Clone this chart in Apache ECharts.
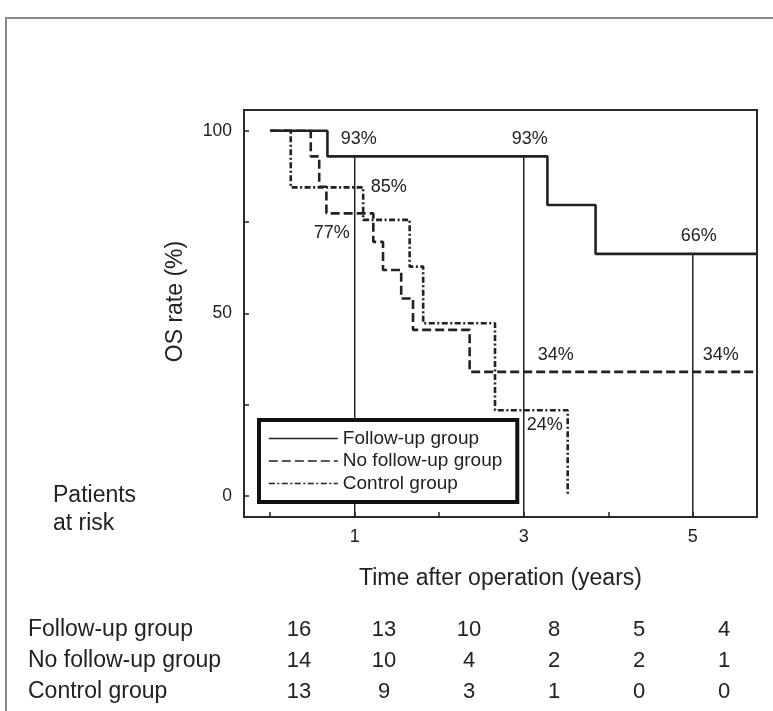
<!DOCTYPE html>
<html>
<head>
<meta charset="utf-8">
<script src="https://cdn.jsdelivr.net/npm/echarts@6/dist/echarts.min.js"></script>
<style>
  html, body { margin: 0; padding: 0; background: #fff; }
  #chart-container { width: 773px; height: 711px; }
</style>
</head>
<body>
<div id="chart-container"></div>
<script>
// survival curves (years, OS %)
var followUpTimes = [0, 0.677, 3.28, 3.85, 5.76];
var followUpRates = [100, 93, 79.7, 66.3, 66.3];
var noFollowTimes = [0, 0.48, 0.58, 0.665, 1.22, 1.335, 1.55, 1.69, 2.36, 5.76];
var noFollowRates = [100, 93, 84.7, 77.4, 69.6, 61.9, 54.1, 45.5, 34, 34];
var controlTimes = [0, 0.243, 1.1, 1.65, 1.81, 2.66, 3.52];
var controlRates = [100, 84.5, 75.6, 62.8, 47.3, 23.5, 0];

// rates quoted at 1, 3 and 5 years
var markYears = [1, 3, 5];
var followUpAt = [93, 93, 66];
var noFollowAt = [77, 34, 34];
var controlAt = [85, 24, null];

// patients at risk
var groupNames = ['Follow-up group', 'No follow-up group', 'Control group'];
var riskCols = ['0', '1', '2', '3', '4', '5'];
var riskFollowUp = [16, 13, 10, 8, 5, 4];
var riskNoFollow = [14, 10, 4, 2, 2, 1];
var riskControl = [13, 9, 3, 1, 0, 0];

var xTicks = [0, 1, 2, 3, 4, 5];
var xLabels = [1, 3, 5];
var yTicks = [0, 25, 50, 75, 100];
var yLabels = [0, 50, 100];

var X_MIN = -0.31, X_MAX = 5.76, Y_MIN = -5.75, Y_MAX = 105.7;
var INK = '#222';
var FONT = '"Liberation Sans", Arial, sans-serif';

function pairs(xs, ys) {
  return xs.map(function (x, i) { return [x, ys[i]]; });
}

var dom = document.getElementById('chart-container');
var myChart = echarts.init(dom, null, { renderer: 'canvas' });

// label offsets (px) for the percentage notes
var fuOffsets = [[4, -17], [6, -17], [6, -19]];
var nfOffsets = [[-23, 18], [32, -17], [28, -17]];
var ctOffsets = [[34, 1], [21, 17]];

function noteData(rates, offsets) {
  var out = [];
  rates.forEach(function (r, i) {
    if (r == null) return;
    out.push({ value: [markYears[i], r], label: { offset: offsets[i] } });
  });
  return out;
}

var series = [];

// vertical guide lines at 1/3/5 years
markYears.forEach(function (t, i) {
  series.push({
    type: 'line',
    data: [[t, followUpAt[i]], [t, Y_MIN]],
    showSymbol: false,
    silent: true,
    lineStyle: { color: INK, width: 1.5 },
    z: 1
  });
});

series.push({
  name: 'Follow-up group',
  type: 'line',
  step: 'end',
  data: pairs(followUpTimes, followUpRates),
  symbol: 'none',
  lineStyle: { color: INK, width: 2.6, type: 'solid' },
  itemStyle: { color: INK },
  z: 3
});
series.push({
  name: 'No follow-up group',
  type: 'line',
  step: 'end',
  data: pairs(noFollowTimes, noFollowRates),
  symbol: 'none',
  lineStyle: { color: INK, width: 2.6, type: [9, 4] },
  itemStyle: { color: INK },
  z: 3
});
series.push({
  name: 'Control group',
  type: 'line',
  step: 'end',
  data: pairs(controlTimes, controlRates),
  symbol: 'none',
  lineStyle: { color: INK, width: 2.6, type: [6, 2.5, 2, 2.5] },
  itemStyle: { color: INK },
  z: 3
});

// percentage notes
series.push({
  type: 'scatter',
  symbolSize: 0,
  silent: true,
  itemStyle: { opacity: 1 },
  data: noteData(followUpAt, fuOffsets)
    .concat(noteData(noFollowAt, nfOffsets))
    .concat(noteData(controlAt, ctOffsets)),
  label: {
    show: true,
    position: 'inside',
    fontSize: 18,
    color: INK,
    fontFamily: FONT,
    formatter: function (p) { return p.value[1] + '%'; }
  },
  z: 4
});

// at-risk table
var riskRows = [riskFollowUp, riskNoFollow, riskControl];
var tableData = [];
riskRows.forEach(function (row, r) {
  row.forEach(function (n, c) { tableData.push([c, r, n]); });
});
series.push({
  type: 'scatter',
  xAxisIndex: 1,
  yAxisIndex: 1,
  symbolSize: 0,
  silent: true,
  itemStyle: { opacity: 1 },
  data: tableData,
  label: {
    show: true,
    position: 'inside',
    fontSize: 22,
    color: INK,
    fontFamily: FONT,
    formatter: function (p) { return String(p.value[2]); }
  }
});

var option = {
  animation: false,
  backgroundColor: '#fff',
  textStyle: { fontFamily: FONT, color: INK },
  graphic: [
    {
      type: 'rect',
      shape: { x: 6, y: 18, width: 900, height: 900 },
      style: { fill: null, stroke: '#8a8a8a', lineWidth: 2 },
      silent: true
    },
    {
      type: 'text',
      left: 53,
      top: 482,
      style: {
        text: 'Patients\nat risk',
        fontSize: 23,
        lineHeight: 28,
        fill: INK,
        fontFamily: FONT
      }
    }
  ],
  legend: {
    orient: 'vertical',
    left: 259,
    top: 420,
    data: ['Follow-up group', 'No follow-up group', 'Control group'],
    itemWidth: 69,
    itemHeight: 19,
    itemGap: 3.5,
    padding: [9, 15, 9, 9],
    borderColor: '#111',
    borderWidth: 4,
    backgroundColor: '#fff',
    itemStyle: { opacity: 0, color: 'transparent', borderWidth: 0 },
    lineStyle: { width: 1.6, opacity: 1 },
    textStyle: { fontSize: 19, color: INK, fontFamily: FONT },
    selectedMode: false
  },
  grid: [
    {
      left: 244, top: 110, width: 513, height: 407,
      show: true, borderColor: '#2a2a2a', borderWidth: 2,
      containLabel: false
    },
    {
      left: 256.5, top: 614, width: 510, height: 93,
      containLabel: false
    }
  ],
  xAxis: [
    {
      type: 'value',
      min: X_MIN,
      max: X_MAX,
      splitLine: { show: false },
      axisLine: { show: false, onZero: false },
      axisTick: { show: true, inside: true, length: 5, customValues: xTicks, lineStyle: { color: INK, width: 1.5 } },
      axisLabel: { customValues: xLabels, fontSize: 18, color: INK, margin: 11 },
      name: 'Time after operation (years)',
      nameLocation: 'middle',
      nameGap: 50,
      nameTextStyle: { fontSize: 23, color: INK }
    },
    {
      gridIndex: 1,
      type: 'category',
      data: riskCols,
      show: false
    }
  ],
  yAxis: [
    {
      type: 'value',
      min: Y_MIN,
      max: Y_MAX,
      splitLine: { show: false },
      axisLine: { show: false, onZero: false },
      axisTick: { show: true, inside: true, length: 5, customValues: yTicks, lineStyle: { color: INK, width: 1.5 } },
      axisLabel: { customValues: yLabels, fontSize: 17.5, color: INK, margin: 12 },
      name: 'OS rate (%)',
      nameLocation: 'middle',
      nameGap: 57,
      nameTextStyle: { fontSize: 23, color: INK, padding: [0, 0, 0, 24] }
    },
    {
      gridIndex: 1,
      type: 'category',
      data: groupNames,
      inverse: true,
      axisLine: { show: false },
      axisTick: { show: false },
      splitLine: { show: false },
      axisLabel: { align: 'left', margin: 228.5, fontSize: 23, color: INK }
    }
  ],
  series: series
};

if (option && typeof option === 'object') {
  myChart.setOption(option);
}

window.addEventListener('resize', myChart.resize);
</script>
</body>
</html>
